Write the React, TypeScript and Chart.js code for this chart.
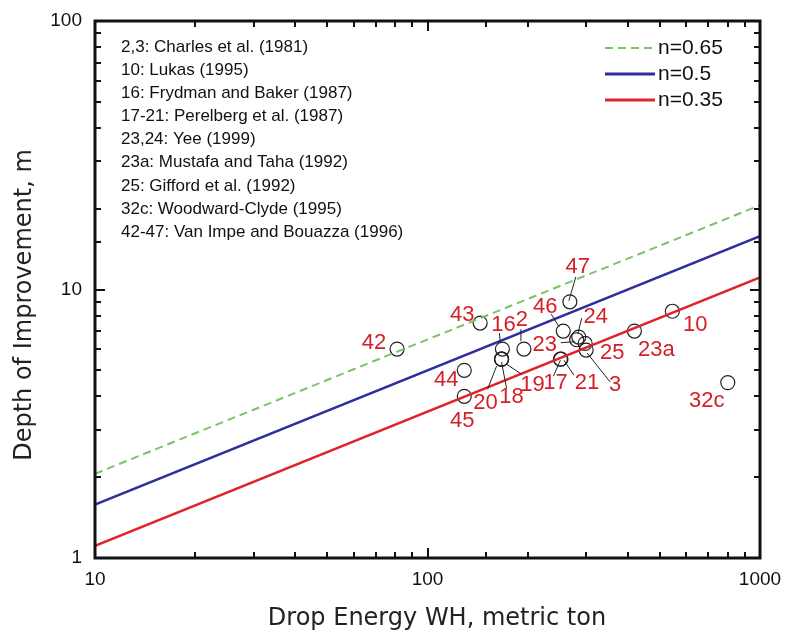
import React, { useEffect, useRef } from 'react';
import { Chart, registerables } from 'chart.js';

Chart.register(...registerables);

// ---- data ----
const pointLabels = ['42', '43', '44', '45', '16', '18', '19', '20', '2', '17', '21', '46', '23', '24', '47', '25', '3', '23a', '10', '32c'];
const dropEnergy = [81, 144, 129, 129, 168, 167, 167, 167, 195, 251, 252, 256, 281, 285, 268, 298, 300, 419, 545, 800];
const depth = [6.0, 7.5, 5.0, 4.0, 6.0, 5.5, 5.5, 5.5, 6.0, 5.5, 5.5, 7.0, 6.5, 6.65, 9.0, 6.3, 5.95, 7.0, 8.3, 4.5];

const lineEnergy = [10, 1000];
const depthN065 = [2.06, 20.6];
const depthN050 = [1.58, 15.8];
const depthN035 = [1.11, 11.1];
const seriesNames = ['n=0.65', 'n=0.5', 'n=0.35'];

const xTickLabels = [10, 100, 1000];
const yTickLabels = [1, 10, 100];

const sourceNotes = [
  '2,3: Charles et al. (1981)',
  '10: Lukas (1995)',
  '16: Frydman and Baker (1987)',
  '17-21: Perelberg et al. (1987)',
  '23,24: Yee (1999)',
  '23a: Mustafa and Taha (1992)',
  '25: Gifford et al. (1992)',
  '32c: Woodward-Clyde (1995)',
  '42-47: Van Impe and Bouazza (1996)',
];

const xTitle = 'Drop Energy WH, metric ton';
const yTitle = 'Depth of Improvement, m';

// ---- styles ----
const GREEN = '#7cc266';
const BLUE = '#2e2e9c';
const RED = '#e0222b';
const LABEL_RED = '#d41f27';
const SANS = '"Liberation Sans", Arial, sans-serif';
const TITLE_FONT = '"DejaVu Sans", Verdana, sans-serif';

// label offsets (pixels) relative to the marker, plus optional leader line
const labelStyle: Record<string, { dx: number; dy: number; line?: number[] }> = {
  '42': { dx: -23, dy: -6 },
  '43': { dx: -18, dy: -8 },
  '44': { dx: -18, dy: 10 },
  '45': { dx: -2, dy: 25 },
  '16': { dx: 1, dy: -24, line: [-3, -16, -2, -6] },
  '18': { dx: 10, dy: 38, line: [5, 29, 0, 3] },
  '19': { dx: 31, dy: 26, line: [20, 15, 5, 5] },
  '20': { dx: -16, dy: 44, line: [-14, 30, -5, 7] },
  '2': { dx: -2, dy: -29, line: [-3, -20, -3, -8] },
  '17': { dx: -5, dy: 24, line: [-7, 17, 0, 1] },
  '21': { dx: 26, dy: 24, line: [13, 16, 3, 1] },
  '46': { dx: -18, dy: -24, line: [-12, -17, -4, -4] },
  '23': { dx: -32, dy: 5, line: [-16, 3, -2, 2] },
  '24': { dx: 17, dy: -20, line: [3, -19, -1, -3] },
  '47': { dx: 8, dy: -35, line: [6, -25, -1, -1] },
  '25': { dx: 27, dy: 10 },
  '3': { dx: 29, dy: 35, line: [24, 32, 1, 3] },
  '23a': { dx: 22, dy: 19 },
  '10': { dx: 23, dy: 14 },
  '32c': { dx: -21, dy: 18 },
};

const decorPlugin = {
  id: 'decor',
  afterDraw(chart: any) {
    const ctx = chart.ctx as CanvasRenderingContext2D;
    const a = chart.chartArea;
    const xs = chart.scales.x;
    const ys = chart.scales.y;
    ctx.save();

    // point labels + leader lines
    const meta = chart.getDatasetMeta(3);
    meta.data.forEach((el: any, i: number) => {
      const lab = pointLabels[i];
      const st = labelStyle[lab];
      if (!st) return;
      const x = el.x;
      const y = el.y;
      if (st.line) {
        ctx.beginPath();
        ctx.moveTo(x + st.line[0], y + st.line[1]);
        ctx.lineTo(x + st.line[2], y + st.line[3]);
        ctx.strokeStyle = '#222';
        ctx.lineWidth = 1;
        ctx.stroke();
      }
      ctx.fillStyle = LABEL_RED;
      ctx.font = `22px ${SANS}`;
      ctx.textAlign = 'center';
      ctx.textBaseline = 'middle';
      ctx.fillText(lab, x + st.dx, y + st.dy);
    });

    // inward ticks
    ctx.strokeStyle = '#111';
    ctx.lineWidth = 2;
    xs.ticks.forEach((t: any) => {
      const v = t.value;
      if (v <= xs.min || v >= xs.max) return;
      const px = Math.round(xs.getPixelForValue(v));
      const len = xTickLabels.includes(v) ? 10 : 6;
      ctx.beginPath();
      ctx.moveTo(px, a.bottom);
      ctx.lineTo(px, a.bottom - len);
      ctx.moveTo(px, a.top);
      ctx.lineTo(px, a.top + len);
      ctx.stroke();
    });
    ys.ticks.forEach((t: any) => {
      const v = t.value;
      if (v <= ys.min || v >= ys.max) return;
      const py = Math.round(ys.getPixelForValue(v));
      const len = yTickLabels.includes(v) ? 10 : 6;
      ctx.beginPath();
      ctx.moveTo(a.left, py);
      ctx.lineTo(a.left + len, py);
      ctx.moveTo(a.right, py);
      ctx.lineTo(a.right - len, py);
      ctx.stroke();
    });

    // frame
    ctx.lineWidth = 3;
    ctx.strokeStyle = '#111';
    ctx.strokeRect(a.left, a.top, a.right - a.left, a.bottom - a.top);

    // source notes
    ctx.fillStyle = '#111';
    ctx.font = `17px ${SANS}`;
    ctx.textAlign = 'left';
    ctx.textBaseline = 'middle';
    sourceNotes.forEach((s, i) => {
      ctx.fillText(s, a.left + 26, a.top + 26 + i * 23.15);
    });

    // legend
    const legendColors = [GREEN, BLUE, RED];
    const legendDash = [[8, 5], [], []];
    seriesNames.forEach((name, i) => {
      const ly = a.top + 27 + i * 26;
      ctx.beginPath();
      ctx.setLineDash(legendDash[i]);
      ctx.strokeStyle = legendColors[i];
      ctx.lineWidth = i === 0 ? 2 : 3;
      ctx.moveTo(a.right - 155, ly);
      ctx.lineTo(a.right - 105, ly);
      ctx.stroke();
      ctx.setLineDash([]);
      ctx.fillStyle = '#111';
      ctx.font = `21px ${SANS}`;
      ctx.textAlign = 'left';
      ctx.textBaseline = 'middle';
      ctx.fillText(name, a.right - 102, ly);
    });

    // axis titles
    ctx.fillStyle = '#222';
    ctx.font = `24px ${TITLE_FONT}`;
    ctx.textAlign = 'center';
    ctx.textBaseline = 'middle';
    ctx.fillText(xTitle, 437, 619);
    ctx.save();
    ctx.translate(25, 305);
    ctx.rotate(-Math.PI / 2);
    ctx.fillText(yTitle, 0, 0);
    ctx.restore();

    ctx.restore();
  },
};

export default function App() {
  const ref = useRef<HTMLCanvasElement | null>(null);

  useEffect(() => {
    if (!ref.current) return;
    const toPts = (xs: number[], ys: number[]) => xs.map((x, i) => ({ x, y: ys[i] }));
    const chart = new Chart(ref.current, {
      type: 'scatter',
      data: {
        datasets: [
          {
            label: seriesNames[0],
            data: toPts(lineEnergy, depthN065),
            showLine: true,
            borderColor: GREEN,
            borderWidth: 2,
            borderDash: [8, 5],
            pointRadius: 0,
          },
          {
            label: seriesNames[1],
            data: toPts(lineEnergy, depthN050),
            showLine: true,
            borderColor: BLUE,
            borderWidth: 2.5,
            pointRadius: 0,
          },
          {
            label: seriesNames[2],
            data: toPts(lineEnergy, depthN035),
            showLine: true,
            borderColor: RED,
            borderWidth: 2.5,
            pointRadius: 0,
          },
          {
            label: 'data',
            data: toPts(dropEnergy, depth),
            showLine: false,
            pointRadius: 7,
            pointBorderWidth: 1.2,
            pointBorderColor: '#222',
            pointBackgroundColor: 'rgba(0,0,0,0)',
          },
        ],
      },
      options: {
        animation: false,
        responsive: false,
        layout: { padding: { left: 0, top: 21, right: 25, bottom: 0 } },
        plugins: { legend: { display: false }, tooltip: { enabled: false } },
        scales: {
          x: {
            type: 'logarithmic',
            min: 10,
            max: 1000,
            grid: { display: false, drawTicks: false },
            border: { display: false },
            afterFit: (s: any) => {
              s.height = 74;
              s.paddingLeft = 0;
              s.paddingRight = 0;
            },
            ticks: {
              autoSkip: false,
              maxRotation: 0,
              padding: 10,
              color: '#111',
              font: { family: SANS, size: 19 },
              callback: (v: any) => (xTickLabels.includes(Number(v)) ? String(v) : ''),
            },
          },
          y: {
            type: 'logarithmic',
            min: 1,
            max: 100,
            grid: { display: false, drawTicks: false },
            border: { display: false },
            afterFit: (s: any) => {
              s.width = 95;
              s.paddingTop = 0;
              s.paddingBottom = 0;
            },
            ticks: {
              autoSkip: false,
              padding: 13,
              color: '#111',
              font: { family: SANS, size: 19 },
              callback: (v: any) => (yTickLabels.includes(Number(v)) ? String(v) : ''),
            },
          },
        },
      },
      plugins: [decorPlugin],
    });
    return () => chart.destroy();
  }, []);

  return (
    <div style={{ position: 'fixed', left: 0, top: 0, width: 785, height: 632, background: '#fff' }}>
      <canvas ref={ref} width={785} height={632} />
    </div>
  );
}
